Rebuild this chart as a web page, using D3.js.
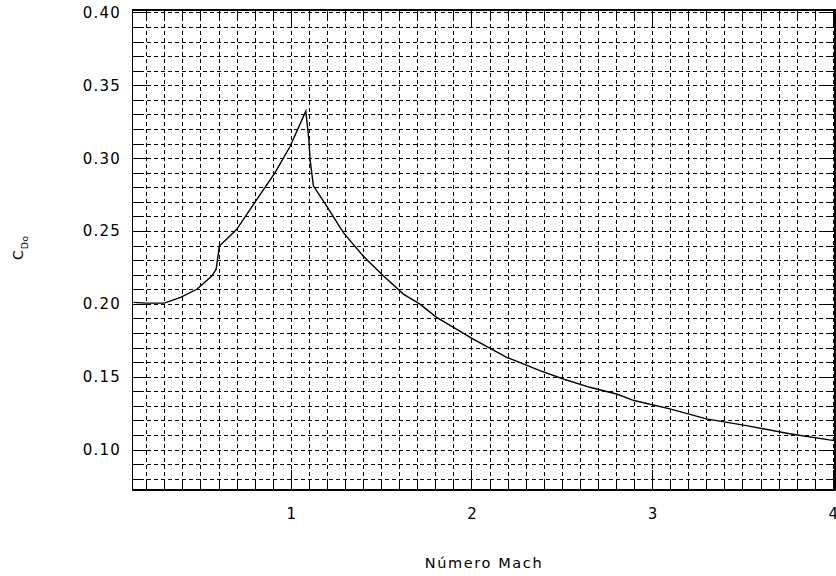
<!DOCTYPE html>
<html>
<head>
<meta charset="utf-8">
<script src="https://cdn.jsdelivr.net/npm/d3@7"></script>
<style>
  html, body { margin: 0; padding: 0; background: #fff; }
  svg { display: block; }
  text { font-family: "DejaVu Sans", sans-serif; fill: #000; }
</style>
</head>
<body>
<svg id="chart" width="836" height="576"></svg>
<script>
// ---- data ----
const machValues = [0.13, 0.20, 0.30, 0.39, 0.48, 0.563, 0.587, 0.605, 0.70, 0.80, 0.913, 0.996, 1.083,
  1.10, 1.107, 1.125, 1.199, 1.291, 1.40, 1.512, 1.623, 1.715, 1.807, 2.01, 2.195, 2.379, 2.508,
  2.655, 2.803, 2.90, 3.098, 3.30, 3.522, 3.76, 3.98, 4.01];
const cdoValues = [0.2010, 0.2005, 0.2005, 0.2044, 0.2100, 0.2190, 0.2238, 0.2397, 0.2510, 0.2695, 0.2900, 0.3080, 0.3322,
  0.3130, 0.2990, 0.2810, 0.2670, 0.2489, 0.2329, 0.2192, 0.2067, 0.1998, 0.1907, 0.1758, 0.1633, 0.1541, 0.1484,
  0.1427, 0.1381, 0.1336, 0.1279, 0.1210, 0.1164, 0.1108, 0.1066, 0.1062];
const xTickLabels = [1, 2, 3, 4];
const yTickLabels = [0.10, 0.15, 0.20, 0.25, 0.30, 0.35, 0.40];
const xLabel = "Número Mach";
const yLabelMain = "C";
const yLabelSub = "Do";

// ---- layout ----
const svg = d3.select("#chart");
const L = 132.5, R = 835, T = 10, B = 490;
const x = d3.scaleLinear().domain([0.124, 4.012]).range([L, R]);
const y = d3.scaleLinear().domain([0.0722, 0.4017]).range([B, T]);

const xMinor = d3.range(2, 41).map(d => d / 10);        // 0.2 .. 4.0
const yMinor = d3.range(8, 41).map(d => d / 100);       // 0.08 .. 0.40
const isXMajor = v => Math.abs(v - Math.round(v)) < 1e-6;
const isYMajor = v => Math.abs(v * 20 - Math.round(v * 20)) < 1e-6;

const px = v => Math.round(v) + 0.5;

// grid
const grid = svg.append("g").attr("stroke", "#000").attr("stroke-width", 1)
  .attr("stroke-dasharray", "4,3").attr("shape-rendering", "crispEdges");
grid.selectAll("line.v").data(xMinor.filter(v => x(v) < R - 2)).join("line")
  .attr("class", "v")
  .attr("x1", d => px(x(d))).attr("x2", d => px(x(d)))
  .attr("y1", T).attr("y2", B);
grid.selectAll("line.h").data(yMinor).join("line")
  .attr("class", "h")
  .attr("x1", L).attr("x2", R)
  .attr("y1", d => px(y(d))).attr("y2", d => px(y(d)));

// ticks (inward, all four sides)
const ticks = svg.append("g").attr("stroke", "#000").attr("stroke-width", 1.3)
  .attr("shape-rendering", "crispEdges");
ticks.selectAll("line.bt").data(xMinor).join("line")
  .attr("x1", d => px(x(d))).attr("x2", d => px(x(d)))
  .attr("y1", B).attr("y2", d => B - (isXMajor(d) ? 20 : 10));
ticks.selectAll("line.tt").data(xMinor).join("line")
  .attr("x1", d => px(x(d))).attr("x2", d => px(x(d)))
  .attr("y1", T).attr("y2", d => T + (isXMajor(d) ? 16 : 8));
ticks.selectAll("line.lt").data(yMinor).join("line")
  .attr("x1", L).attr("x2", d => L + (isYMajor(d) ? 14 : 8))
  .attr("y1", d => px(y(d))).attr("y2", d => px(y(d)));
ticks.selectAll("line.rt").data(yMinor).join("line")
  .attr("x1", R).attr("x2", d => R - (isYMajor(d) ? 14 : 6))
  .attr("y1", d => px(y(d))).attr("y2", d => px(y(d)));

// frame
svg.append("rect").attr("x", L).attr("y", T).attr("width", R - L).attr("height", B - T)
  .attr("fill", "none").attr("stroke", "#000").attr("stroke-width", 1.6)
  .attr("shape-rendering", "crispEdges");

// curve
const line = d3.line().x((d, i) => x(machValues[i])).y(d => y(d));
svg.append("path").datum(cdoValues)
  .attr("d", line).attr("fill", "none").attr("stroke", "#000").attr("stroke-width", 1.4);

// tick labels
svg.append("g").selectAll("text").data(yTickLabels).join("text")
  .attr("x", 121).attr("y", d => y(d)).attr("dy", "0.36em")
  .attr("text-anchor", "end").attr("font-size", 15).attr("letter-spacing", 1.2)
  .text(d => d.toFixed(2));
svg.append("g").selectAll("text").data(xTickLabels).join("text")
  .attr("x", d => x(d) + 0.5).attr("y", 519)
  .attr("text-anchor", "middle").attr("font-size", 15)
  .text(d => d);

// axis titles
svg.append("text").attr("x", 484).attr("y", 568)
  .attr("text-anchor", "middle").attr("font-size", 14.5).attr("letter-spacing", 1.6)
  .text(xLabel);

const yl = svg.append("text").attr("transform", "translate(23,248) rotate(-90)")
  .attr("text-anchor", "middle").attr("font-size", 14);
yl.append("tspan").text(yLabelMain);
yl.append("tspan").attr("font-size", 9.5).attr("dy", 4.5).attr("dx", 1).text(yLabelSub);
</script>
</body>
</html>
